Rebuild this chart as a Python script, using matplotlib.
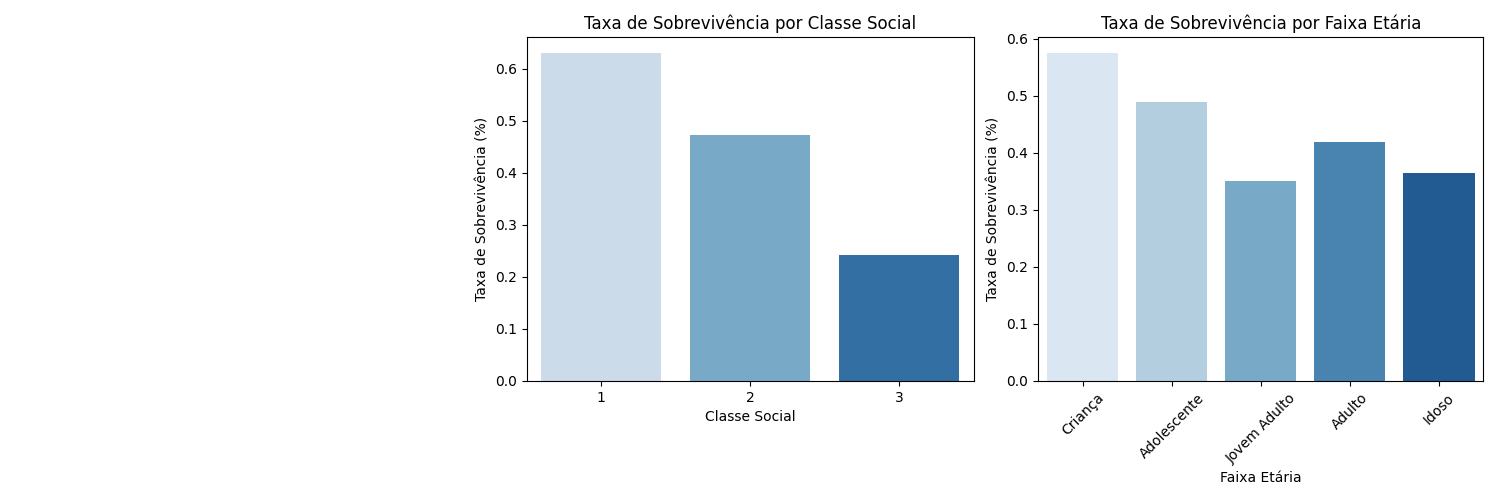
import matplotlib
matplotlib.use("Agg")
import matplotlib.pyplot as plt
import seaborn as sns

classes = ["1", "2", "3"]
class_rates = [0.630, 0.473, 0.242]
ages = ["Criança", "Adolescente", "Jovem Adulto", "Adulto", "Idoso"]
age_rates = [0.574, 0.489, 0.351, 0.418, 0.365]

fig = plt.figure(figsize=(15, 5), dpi=100)
ax1 = fig.add_axes([0.351, 0.238, 0.298, 0.688])
ax2 = fig.add_axes([0.692, 0.238, 0.297, 0.688])

sns.barplot(x=classes, y=class_rates, hue=classes, palette="Blues", legend=False, ax=ax1, saturation=0.75)
ax1.set_title("Taxa de Sobrevivência por Classe Social")
ax1.set_xlabel("Classe Social")
ax1.set_ylabel("Taxa de Sobrevivência (%)")

sns.barplot(x=ages, y=age_rates, hue=ages, palette="Blues", legend=False, ax=ax2, saturation=0.75)
ax2.set_title("Taxa de Sobrevivência por Faixa Etária")
ax2.set_xlabel("Faixa Etária")
ax2.set_ylabel("Taxa de Sobrevivência (%)")
ax2.tick_params(axis="x", rotation=45)

fig.savefig("out.png")
